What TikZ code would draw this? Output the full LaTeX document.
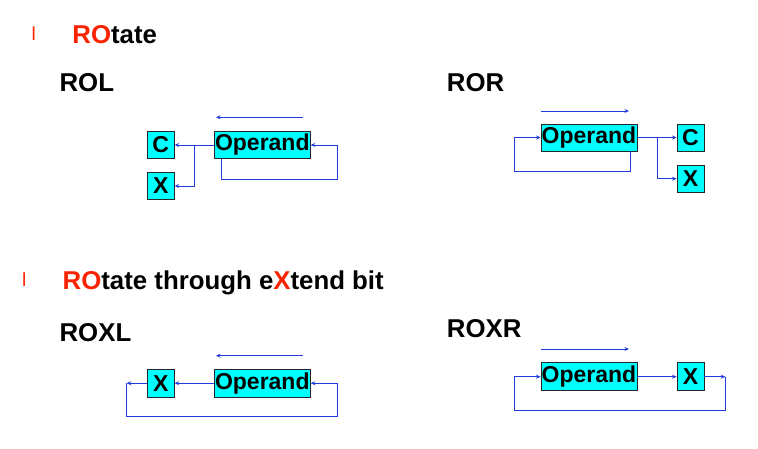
\documentclass[tikz,border=0pt]{standalone}
\usepackage{fontspec}
\setmainfont{Liberation Sans}
\usetikzlibrary{arrows.meta}
\definecolor{lineblue}{RGB}{35,60,225}
\definecolor{titlered}{RGB}{250,35,0}
\definecolor{boxcyan}{RGB}{0,255,255}
\begin{document}
\begin{tikzpicture}[x=1pt,y=-1pt,
  reg/.style={draw=black!85,line width=0.9pt,fill=boxcyan,inner sep=0pt,
    font=\fontsize{23}{25}\selectfont\bfseries},
  opbox/.style={reg,minimum width=96pt,minimum height=27pt},
  bitbox/.style={reg,minimum width=27pt,minimum height=27pt},
  conn/.style={draw=lineblue,line width=0.8pt,-{Stealth[length=4.5pt,width=4pt]}},
  heading/.style={anchor=base west,inner sep=0pt,font=\fontsize{25.8}{28}\selectfont\bfseries},
  bullet/.style={anchor=base west,inner sep=0pt,text=titlered,font=\fontsize{19}{19}\selectfont}
]
\useasboundingbox (0,0) rectangle (758,448);

% headings
\node[bullet] (b1) at (31.3,40.7) {l};
\node[heading] (t1) at (72.2,43) {\textcolor{titlered}{RO}tate};
\node[heading] (h1) at (59.4,91.7) {ROL};
\node[heading] (h2) at (446.7,91.7) {ROR};
\node[bullet] (b2) at (21.8,286) {l};
\node[heading] (t2) at (62.5,289) {\textcolor{titlered}{RO}tate through e\textcolor{titlered}{X}tend bit};
\node[heading] (h3) at (59.4,341.5) {ROXL};
\node[heading] (h4) at (446.7,337.3) {ROXR};

% ---- ROL
\node[bitbox] (C1) at (160.7,145) {C};
\node[bitbox] (X1) at (160.7,186) {X};
\node[opbox] (O1) at (262.3,145) {Operand};
\coordinate (a1s) at (303,117.3);
\coordinate (a1e) at (216,117.3);
\draw[conn] (a1s) -- (a1e);
\coordinate (br1) at (194.3,145);
\draw[conn] (O1.west) -- (C1.east);
\draw[conn] (br1) |- (X1.east);
\coordinate (f1a) at (221.3,158.5);
\coordinate (f1b) at (337.3,179);
\draw[conn] (f1a) |- (f1b) |- (O1.east);

% ---- ROR
\node[opbox] (O2) at (589,137.5) {Operand};
\node[bitbox] (C2) at (690.5,137.5) {C};
\node[bitbox] (X2) at (690.5,178.7) {X};
\coordinate (a2s) at (541,111);
\coordinate (a2e) at (629,111);
\draw[conn] (a2s) -- (a2e);
\coordinate (br2) at (657.3,137.5);
\draw[conn] (O2.east) -- (C2.west);
\draw[conn] (br2) |- (X2.west);
\coordinate (f2a) at (630,151);
\coordinate (f2b) at (514.3,171.7);
\draw[conn] (f2a) |- (f2b) |- (O2.west);

% ---- ROXL
\node[bitbox,minimum height=28pt] (X3) at (160.7,383.2) {X};
\node[opbox,minimum height=28pt] (O3) at (262.3,383.2) {Operand};
\coordinate (a3s) at (302.7,355.7);
\coordinate (a3e) at (216,355.7);
\draw[conn] (a3s) -- (a3e);
\draw[conn] (O3.west) -- (X3.east);
\coordinate (l3) at (126.7,383.2);
\draw[conn] (X3.west) -- (l3);
\coordinate (f3) at (337.3,416.7);
\draw[conn] (l3) |- (f3) |- (O3.east);

% ---- ROXR
\node[opbox,minimum height=28pt] (O4) at (589,376.7) {Operand};
\node[bitbox,minimum height=28pt] (X4) at (690.5,376.7) {X};
\coordinate (a4s) at (541,349);
\coordinate (a4e) at (629,349);
\draw[conn] (a4s) -- (a4e);
\draw[conn] (O4.east) -- (X4.west);
\coordinate (r4) at (725.3,376.7);
\draw[conn] (X4.east) -- (r4);
\coordinate (f4) at (514.3,410);
\draw[conn] (r4) |- (f4) |- (O4.west);
\end{tikzpicture}
\end{document}
